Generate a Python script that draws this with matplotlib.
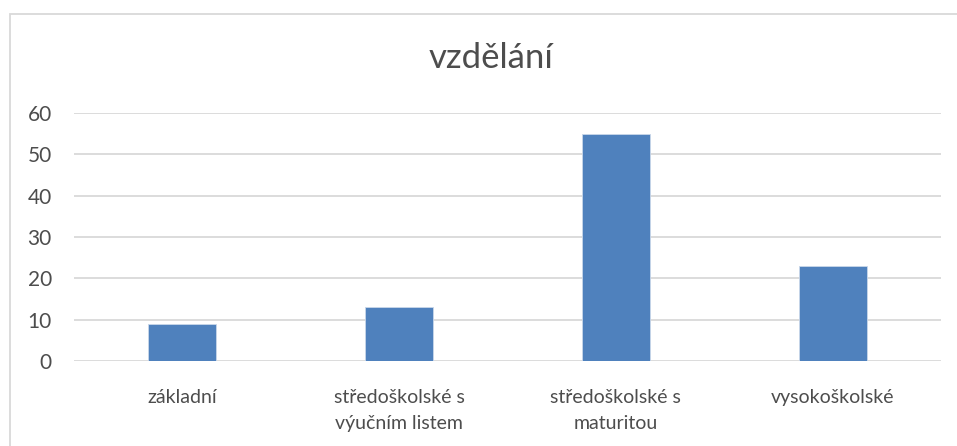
import matplotlib
matplotlib.use("Agg")
import matplotlib.pyplot as plt
from matplotlib.patches import Rectangle

categories = ["základní", "středoškolské s\nvýučním listem", "středoškolské s\nmaturitou", "vysokoškolské"]
values = [9, 13, 55, 23]
yticks = [0, 10, 20, 30, 40, 50, 60]
title = "vzdělání"

W, H = 957, 446
plt.rcParams['font.family'] = ['Lato', 'DejaVu Sans']
fig = plt.figure(figsize=(W / 100, H / 100), dpi=100)

# chart frame
fig.patches.append(Rectangle((10 / W, -0.1), 1.2, 1 - 13.5 / H + 0.1, transform=fig.transFigure,
                             fill=False, edgecolor="#D9D9D9", linewidth=1.3))

left, right = 74 / W, 941 / W
bottom, top = 1 - 361 / H, 1 - 113 / H
ax = fig.add_axes([left, bottom, right - left, top - bottom])

x = range(len(categories))
ax.bar(x, values, width=0.313, color="#4F81BD", edgecolor="#C9D7EA", linewidth=0.6, zorder=3)
ax.set_xlim(-0.5, len(categories) - 0.5)
ax.set_ylim(0, 60)
ax.set_yticks(yticks)
ax.set_xticks(list(x))
ax.set_xticklabels(categories, fontsize=14, color="#4D4D4D", linespacing=1.65)
ax.tick_params(axis="y", labelsize=15, labelcolor="#4D4D4D", length=0, pad=16)
ax.tick_params(axis="x", length=0, pad=20)
ax.yaxis.grid(True, color="#D9D9D9", linewidth=1.3, zorder=0)
for s in ax.spines.values():
    s.set_visible(False)

fig.text(491 / W, 1 - 58 / H, title, ha="center", va="center", fontsize=25, color="#4D4D4D")

fig.savefig("out.png", dpi=100)
